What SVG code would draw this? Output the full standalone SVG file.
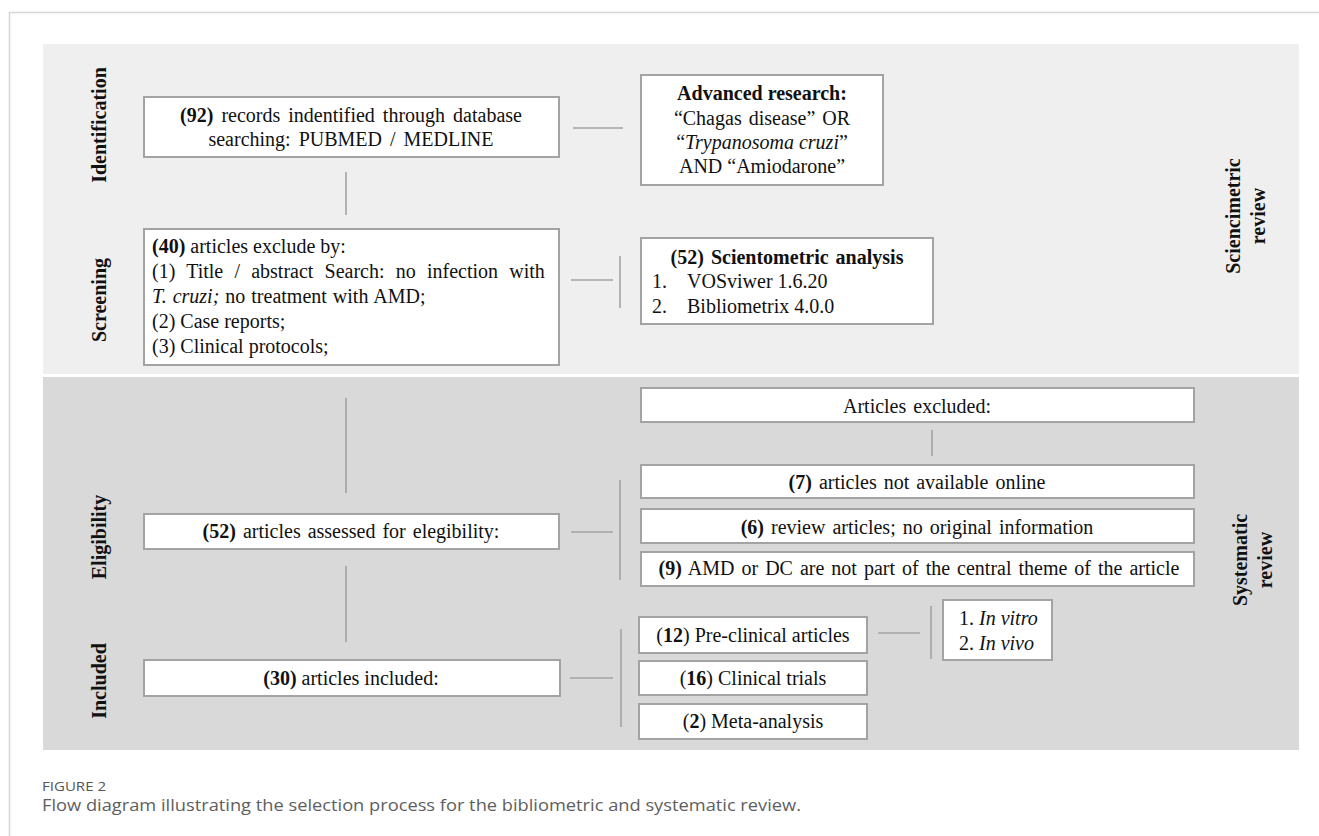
<svg xmlns="http://www.w3.org/2000/svg" width="1319" height="836" viewBox="0 0 1319 836">
<style>
.box{fill:#fff;stroke:#a3a3a3;stroke-width:2}
.t{font-family:"Liberation Serif","Times New Roman",serif;font-size:20px;fill:#111}
.b{font-weight:bold}
.i{font-style:italic}
.m{text-anchor:middle}
.lab{font-family:"Liberation Serif","Times New Roman",serif;font-size:20px;font-weight:bold;fill:#111;text-anchor:middle}
.cap{font-family:"Open Sans","Liberation Sans",sans-serif}
#connectors line{stroke:#a3a3a3;stroke-width:1.6}
</style>
<rect width="1319" height="836" fill="#fff"/>
<path d="M9.5,836 V12.5 H1319" fill="none" stroke="#d6d6d6" stroke-width="1.5"/>
<rect x="43" y="44" width="1256" height="330" fill="#efefef"/>
<rect x="43" y="377" width="1256" height="373" fill="#d9d9d9"/>

<g id="stage-labels">
<text class="lab" transform="translate(106,125) rotate(-90)">Identification</text>
<text class="lab" transform="translate(106,300) rotate(-90)">Screening</text>
<text class="lab" transform="translate(106,537) rotate(-90)">Eligibility</text>
<text class="lab" transform="translate(106,681) rotate(-90)">Included</text>
<text class="lab" transform="translate(1240,216) rotate(-90)"><tspan x="0" y="0">Sciencimetric</tspan><tspan x="0" y="25">review</tspan></text>
<text class="lab" transform="translate(1247,560) rotate(-90)"><tspan x="0" y="0">Systematic</tspan><tspan x="0" y="25">review</tspan></text>
</g>

<g id="connectors">
<line x1="573" y1="128" x2="623" y2="128"/>
<line x1="346" y1="172" x2="346" y2="215"/>
<line x1="571" y1="280" x2="613" y2="280"/>
<line x1="620" y1="256" x2="620" y2="308"/>
<line x1="346" y1="398" x2="346" y2="493"/>
<line x1="932" y1="430" x2="932" y2="456"/>
<line x1="571" y1="532" x2="613" y2="532"/>
<line x1="620" y1="480" x2="620" y2="580"/>
<line x1="346" y1="566" x2="346" y2="642"/>
<line x1="570" y1="678" x2="613" y2="678"/>
<line x1="621" y1="629" x2="621" y2="727"/>
<line x1="878" y1="633" x2="920" y2="633"/>
<line x1="931" y1="606" x2="931" y2="659"/>
</g>

<g id="n92">
<rect class="box" x="144" y="97" width="415" height="60"/>
<text class="t m" x="351" y="122" word-spacing="3"><tspan class="b">(92)</tspan> records indentified through database</text>
<text class="t m" x="351" y="146" word-spacing="3">searching: PUBMED / MEDLINE</text>
</g>

<g id="advanced">
<rect class="box" x="641" y="75" width="242" height="110"/>
<text class="t m b" x="762" y="100">Advanced research:</text>
<text class="t m" x="762" y="125" word-spacing="2">“Chagas disease” OR</text>
<text class="t m" x="762" y="149">“<tspan class="i">Trypanosoma cruzi</tspan>”</text>
<text class="t m" x="762" y="173">AND “Amiodarone”</text>
</g>

<g id="n40">
<rect class="box" x="144" y="229" width="415" height="136"/>
<text class="t" x="152" y="253"><tspan class="b">(40)</tspan> articles exclude by:</text>
<text class="t" x="152" y="278" word-spacing="6.2">(1) Title / abstract Search: no infection with</text>
<text class="t" x="152" y="303" word-spacing="1"><tspan class="i">T. cruzi;</tspan> no treatment with AMD;</text>
<text class="t" x="152" y="328">(2) Case reports;</text>
<text class="t" x="152" y="353">(3) Clinical protocols;</text>
</g>

<g id="scientometric">
<rect class="box" x="641" y="238" width="292" height="86"/>
<text class="t m b" x="787" y="264" word-spacing="2">(52) Scientometric analysis</text>
<text class="t" x="652" y="288">1.</text>
<text class="t" x="687" y="288">VOSviwer 1.6.20</text>
<text class="t" x="652" y="313">2.</text>
<text class="t" x="687" y="313">Bibliometrix 4.0.0</text>
</g>

<g id="excluded">
<rect class="box" x="641" y="388" width="553" height="34"/>
<text class="t m" x="917" y="413" word-spacing="2">Articles excluded:</text>
</g>

<g id="n7">
<rect class="box" x="641" y="465" width="553" height="33"/>
<text class="t m" x="917" y="489" word-spacing="2"><tspan class="b">(7)</tspan> articles not available online</text>
</g>

<g id="n6">
<rect class="box" x="641" y="509" width="553" height="34"/>
<text class="t m" x="917" y="534" word-spacing="2"><tspan class="b">(6)</tspan> review articles; no original information</text>
</g>

<g id="n9">
<rect class="box" x="641" y="552" width="553" height="34"/>
<text class="t m" x="919" y="575" word-spacing="2"><tspan class="b">(9)</tspan> AMD or DC are not part of the central theme of the article</text>
</g>

<g id="n52e">
<rect class="box" x="144" y="514" width="415" height="35"/>
<text class="t m" x="351" y="538" word-spacing="2"><tspan class="b">(52)</tspan> articles assessed  for elegibility:</text>
</g>

<g id="n30">
<rect class="box" x="144" y="660" width="416" height="36"/>
<text class="t m" x="351" y="685"><tspan class="b">(30)</tspan> articles included:</text>
</g>

<g id="n12">
<rect class="box" x="639" y="617" width="228" height="36"/>
<text class="t m" x="753" y="642">(<tspan class="b">12</tspan>) Pre-clinical articles</text>
</g>

<g id="n16">
<rect class="box" x="639" y="661" width="228" height="34"/>
<text class="t m" x="753" y="685">(<tspan class="b">16</tspan>) Clinical trials</text>
</g>

<g id="n2">
<rect class="box" x="639" y="704" width="228" height="35"/>
<text class="t m" x="753" y="728">(<tspan class="b">2</tspan>) Meta-analysis</text>
</g>

<g id="invitro">
<rect class="box" x="943" y="600" width="109" height="60"/>
<text class="t" x="959" y="625">1. <tspan class="i">In vitro</tspan></text>
<text class="t" x="959" y="650">2. <tspan class="i">In vivo</tspan></text>
</g>

<g id="caption">
<text class="cap" x="42" y="791" font-size="13.5" fill="#555" textLength="64" lengthAdjust="spacingAndGlyphs">FIGURE 2</text>
<text class="cap" x="42" y="811" font-size="16" fill="#5e5e5e" textLength="759" lengthAdjust="spacingAndGlyphs">Flow diagram illustrating the selection process for the bibliometric and systematic review.</text>
</g>
</svg>
